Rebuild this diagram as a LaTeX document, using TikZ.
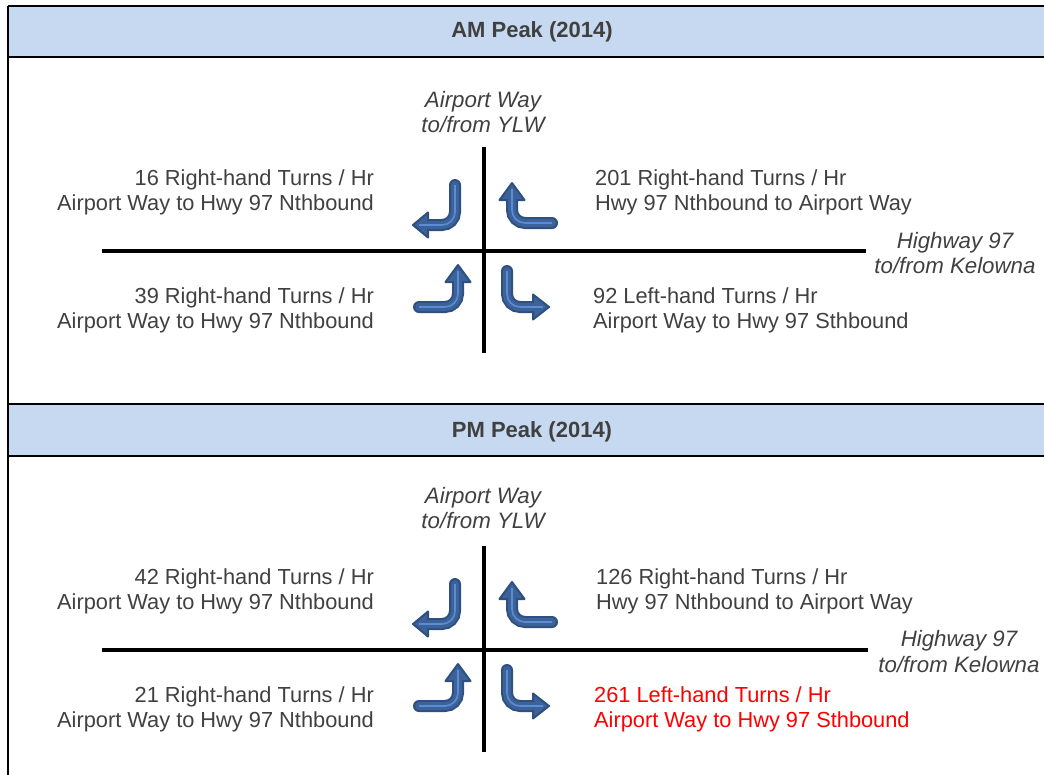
\documentclass[tikz,border=0pt]{standalone}
\usepackage{fontspec}
\setmainfont{Liberation Sans}
\usetikzlibrary{calc}
\definecolor{hdr}{HTML}{C6D9F0}
\definecolor{txt}{HTML}{404040}
\definecolor{arrdark}{HTML}{2D5081}
\definecolor{arrmid}{HTML}{3C6299}
\definecolor{arrlight}{HTML}{5B8DD3}
\newcommand\bentarrow[4]{%
  \coordinate (ba-s) at #1;
  \coordinate (ba-c) at #2;
  \coordinate (ba-b) at #3;
  \coordinate (ba-t) at #4;
  \draw[arrouter] (ba-s) -- (ba-c) -- (ba-b);
  \filldraw[arrhead] (ba-t) -- ($(ba-b)!12.5pt!90:(ba-t)$) -- ($(ba-b)!12.5pt!-90:(ba-t)$) -- cycle;
  \draw[arrinner] (ba-s) -- (ba-c) -- (ba-b);
  \draw[arrline] (ba-s) -- (ba-c) -- ($(ba-t)!6pt!(ba-b)$);
}
\newcommand\allarrows{%
  \bentarrow{(455,185)}{(455,225)}{(428,225)}{(413,225)}
  \bentarrow{(552,223)}{(512,223)}{(512,200)}{(512,183)}
  \bentarrow{(419,307)}{(458,307)}{(458,282)}{(458,265)}
  \bentarrow{(507,271)}{(507,307)}{(533,307)}{(549,307)}
}
\begin{document}
\begin{tikzpicture}[x=1pt,y=-1pt,
  frameline/.style={line width=2.5pt, draw=black},
  road/.style={line width=4pt, draw=black},
  hdrtext/.style={font=\fontsize{22}{26}\selectfont\bfseries, text=txt, inner sep=0pt},
  lbl/.style={font=\fontsize{21.8}{25}\selectfont, text=txt, inner sep=0pt},
  lblL/.style={lbl, anchor=east, align=right},
  lblR/.style={lbl, anchor=west, align=left},
  place/.style={lbl, font=\fontsize{22.3}{25.5}\selectfont\itshape, align=center},
  arrouter/.style={line width=12pt, draw=arrdark, line cap=round, rounded corners=13pt},
  arrhead/.style={fill=arrmid, draw=arrdark, line width=2pt, line join=round},
  arrinner/.style={line width=8pt, draw=arrmid, line cap=round, rounded corners=13pt},
  arrline/.style={line width=1.6pt, draw=arrlight, rounded corners=13pt}]
\useasboundingbox (0,0) rectangle (1044,774);
\clip (0,0) rectangle (1044,774);
% frame
\fill[hdr] (8,6) rectangle (1060,57);
\fill[hdr] (8,404) rectangle (1060,456);
\coordinate (f1a) at (8,6);   \coordinate (f1b) at (1060,6);
\coordinate (f2a) at (8,57);  \coordinate (f2b) at (1060,57);
\coordinate (f3a) at (8,404); \coordinate (f3b) at (1060,404);
\coordinate (f4a) at (8,456); \coordinate (f4b) at (1060,456);
\coordinate (fL) at (8,790);
\draw[frameline] (f1a) -- (f1b);
\draw[frameline] (f2a) -- (f2b);
\draw[frameline] (f3a) -- (f3b);
\draw[frameline] (f4a) -- (f4b);
\draw[frameline] (f1a) -- (fL);
\node[hdrtext] (amh) at (532,32) {AM Peak (2014)};
\node[hdrtext] (pmh) at (532,432) {PM Peak (2014)};
% AM roads
\coordinate (amN) at (483.5,147); \coordinate (amS) at (483.5,353);
\coordinate (amW) at (102,250.5); \coordinate (amE) at (866,250.5);
\draw[road] (amN) -- (amS);
\draw[road] (amW) -- (amE);
% PM roads
\coordinate (pmN) at (484,546); \coordinate (pmS) at (484,752);
\coordinate (pmW) at (102,649.5); \coordinate (pmE) at (868,649.5);
\draw[road] (pmN) -- (pmS);
\draw[road] (pmW) -- (pmE);
% arrows
\allarrows
\begin{scope}[shift={(0,399)}]
\allarrows
\end{scope}
% AM labels
\node[place] (amylw) at (483,112) {Airport Way\\to/from YLW};
\node[place] (amhwy) at (955,253) {Highway 97\\to/from Kelowna};
\node[lblL] (am1) at (374,192.5) {16 Right-hand Turns / Hr\\Airport Way to Hwy 97 Nthbound};
\node[lblR] (am2) at (595,192.5) {201 Right-hand Turns / Hr\\Hwy 97 Nthbound to Airport Way};
\node[lblL] (am3) at (374,310.5) {39 Right-hand Turns / Hr\\Airport Way to Hwy 97 Nthbound};
\node[lblR] (am4) at (593,310.5) {92 Left-hand Turns / Hr\\Airport Way to Hwy 97 Sthbound};
% PM labels
\node[place] (pmylw) at (483,508) {Airport Way\\to/from YLW};
\node[place] (pmhwy) at (959,651.5) {Highway 97\\to/from Kelowna};
\node[lblL] (pm1) at (374,591.5) {42 Right-hand Turns / Hr\\Airport Way to Hwy 97 Nthbound};
\node[lblR] (pm2) at (596,591.5) {126 Right-hand Turns / Hr\\Hwy 97 Nthbound to Airport Way};
\node[lblL] (pm3) at (374,709) {21 Right-hand Turns / Hr\\Airport Way to Hwy 97 Nthbound};
\node[lblR, text=red] (pm4) at (594,709) {261 Left-hand Turns / Hr\\Airport Way to Hwy 97 Sthbound};
\end{tikzpicture}
\end{document}
